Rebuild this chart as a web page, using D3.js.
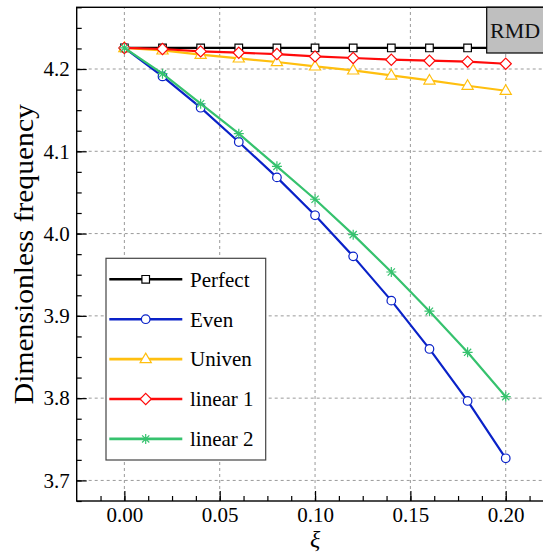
<!DOCTYPE html>
<html>
<head>
<meta charset="utf-8">
<script src="https://cdn.jsdelivr.net/npm/d3@7"></script>
<style>
  html, body { margin: 0; padding: 0; background: #fff; }
  svg { display: block; }
  svg text { font-family: "Liberation Serif", "DejaVu Serif", "Noto Serif", serif; }
</style>
</head>
<body>
<svg id="chart" width="543" height="554"></svg>
<script>
// Damage position ξ (x) and dimensionless frequency for each crack profile
const xi = [0, 0.02, 0.04, 0.06, 0.08, 0.10, 0.12, 0.14, 0.16, 0.18, 0.20];
const perfect = [4.2256, 4.2256, 4.2256, 4.2256, 4.2256, 4.2256, 4.2256, 4.2256, 4.2256, 4.2256, 4.2256];
const even    = [4.2256, 4.1910, 4.1530, 4.1113, 4.0683, 4.0222, 3.9723, 3.9185, 3.8598, 3.7966, 3.7269];
const univen  = [4.2256, 4.2226, 4.2174, 4.2129, 4.2085, 4.2032, 4.1983, 4.1922, 4.1861, 4.1797, 4.1736];
const linear1 = [4.2256, 4.2243, 4.2214, 4.2198, 4.2182, 4.2153, 4.2134, 4.2113, 4.2101, 4.2089, 4.2064];
const linear2 = [4.2256, 4.1943, 4.1578, 4.1214, 4.0817, 4.0417, 3.9987, 3.9533, 3.9057, 3.8557, 3.8018];

const seriesNames = ["Perfect", "Even", "Univen", "linear 1", "linear 2"];
const seriesColors = ["#000000", "#0a22c8", "#ffbf0f", "#ff0a0a", "#36c26e"];
const seriesMarkers = ["square", "circle", "triangle", "diamond", "asterisk"];

const xTicks = [0, 0.05, 0.10, 0.15, 0.20];
const yTicks = [3.7, 3.8, 3.9, 4.0, 4.1, 4.2];
const xLabel = "ξ";
const yLabel = "Dimensionless frequency";
const tagText = "RMD";

const svg = d3.select("#chart");
const margin = { left: 76.7, top: 7.3 };
const plotW = 476.7, plotH = 493.7;

const x = d3.scaleLinear().domain([-0.025, 0.225]).range([margin.left, margin.left + plotW]);
const y = d3.scaleLinear().domain([3.675, 4.275]).range([margin.top + plotH, margin.top]);

// Grid
const grid = svg.append("g").attr("stroke", "#9a9a9a").attr("stroke-width", 1)
  .attr("stroke-dasharray", "3,3").attr("fill", "none");
xTicks.forEach(t => grid.append("line")
  .attr("x1", x(t)).attr("x2", x(t)).attr("y1", y.range()[0]).attr("y2", y.range()[1]));
yTicks.forEach(t => grid.append("line")
  .attr("y1", y(t)).attr("y2", y(t)).attr("x1", x.range()[0]).attr("x2", x.range()[1]));

// Minor ticks (inward)
const xMinor = d3.range(-0.0125, 0.2251, 0.0125);
const yMinor = d3.range(3.675, 4.2751, 0.025);
svg.append("g").attr("transform", `translate(0,${y.range()[0]})`)
  .call(d3.axisBottom(x).tickValues(xMinor).tickSize(-5).tickFormat(""))
  .call(g => g.select(".domain").remove())
  .selectAll("line").attr("stroke", "#000").attr("stroke-width", 1.2);
svg.append("g").attr("transform", `translate(${x.range()[0]},0)`)
  .call(d3.axisLeft(y).tickValues(yMinor).tickSize(-5).tickFormat(""))
  .call(g => g.select(".domain").remove())
  .selectAll("line").attr("stroke", "#000").attr("stroke-width", 1.2);

// Major ticks with labels
const xAxis = svg.append("g").attr("transform", `translate(0,${y.range()[0]})`)
  .call(d3.axisBottom(x).tickValues(xTicks).tickSize(-10).tickPadding(6).tickFormat(d3.format(".2f")));
xAxis.attr("font-family", null).attr("font-size", null);
xAxis.select(".domain").remove();
xAxis.selectAll("line").attr("stroke", "#000").attr("stroke-width", 1.2);
xAxis.selectAll("text").attr("font-size", 21).attr("fill", "#000");

const yAxis = svg.append("g").attr("transform", `translate(${x.range()[0]},0)`)
  .call(d3.axisLeft(y).tickValues(yTicks).tickSize(-10).tickPadding(7).tickFormat(d3.format(".1f")));
yAxis.attr("font-family", null).attr("font-size", null);
yAxis.select(".domain").remove();
yAxis.selectAll("line").attr("stroke", "#000").attr("stroke-width", 1.2);
yAxis.selectAll("text").attr("font-size", 21).attr("fill", "#000");

// Frame
svg.append("rect")
  .attr("x", x.range()[0]).attr("y", y.range()[1])
  .attr("width", plotW).attr("height", plotH)
  .attr("fill", "none").attr("stroke", "#000").attr("stroke-width", 1.4);

// Marker paths
function markerPath(kind) {
  switch (kind) {
    case "square": { const s = 3.8; return `M${-s},${-s}H${s}V${s}H${-s}Z`; }
    case "circle": { const r = 4.3; return `M${r},0A${r},${r} 0 1,1 ${-r},0A${r},${r} 0 1,1 ${r},0Z`; }
    case "triangle": return "M0,-6L5.6,3.6L-5.6,3.6Z";
    case "diamond": { const s = 5.6; return `M0,${-s}L${s},0L0,${s}L${-s},0Z`; }
    case "asterisk": { const s = 5, d = 3.6; return `M0,${-s}V${s}M${-s},0H${s}M${-d},${-d}L${d},${d}M${-d},${d}L${d},${-d}`; }
  }
}

const allSeries = [perfect, even, univen, linear1, linear2];
const clipId = "plotclip";
svg.append("clipPath").attr("id", clipId).append("rect")
  .attr("x", x.range()[0]).attr("y", y.range()[1]).attr("width", plotW).attr("height", plotH);

const line = d3.line().x((d, i) => x(xi[i])).y(d => y(d));
const plot = svg.append("g").attr("clip-path", `url(#${clipId})`);
allSeries.forEach((vals, k) => {
  const g = plot.append("g");
  g.append("path").datum(vals).attr("d", line)
    .attr("fill", "none").attr("stroke", seriesColors[k]).attr("stroke-width", 2.2)
    .attr("stroke-linejoin", "round");
  g.selectAll("path.mk").data(vals).join("path").attr("class", "mk")
    .attr("transform", (d, i) => `translate(${x(xi[i])},${y(d)})`)
    .attr("d", markerPath(seriesMarkers[k]))
    .attr("fill", seriesMarkers[k] === "asterisk" ? "none" : "#fff")
    .attr("stroke", seriesColors[k]).attr("stroke-width", 1.2);
});

// Corner tag box
svg.append("rect").attr("x", 486.7).attr("y", y.range()[1]).attr("width", 90).attr("height", 45.7)
  .attr("fill", "#bfbfbf").attr("stroke", "#000").attr("stroke-width", 1.2);
svg.append("text").attr("x", 490).attr("y", 38.3).attr("font-size", 22).attr("fill", "#111").text(tagText);

// Legend
const leg = svg.append("g");
leg.append("rect").attr("x", 106).attr("y", 258.3).attr("width", 159.7).attr("height", 201.7)
  .attr("fill", "#fff").attr("stroke", "#444").attr("stroke-width", 1.2);
seriesNames.forEach((name, k) => {
  const cy = 279.3 + k * 39.9;
  leg.append("line").attr("x1", 109.3).attr("x2", 182.3).attr("y1", cy).attr("y2", cy)
    .attr("stroke", seriesColors[k]).attr("stroke-width", 2.6);
  leg.append("path").attr("transform", `translate(145.7,${cy})`)
    .attr("d", markerPath(seriesMarkers[k]))
    .attr("fill", seriesMarkers[k] === "asterisk" ? "none" : "#fff")
    .attr("stroke", seriesColors[k]).attr("stroke-width", 1.2);
  leg.append("text").attr("x", 190).attr("y", cy).attr("dy", "0.35em")
    .attr("font-size", 21).attr("fill", "#000").text(name);
});

// Axis titles
svg.append("text").attr("x", x(0.1)).attr("y", 547).attr("text-anchor", "middle")
  .attr("font-size", 24).attr("font-style", "italic").attr("fill", "#000").text(xLabel);
svg.append("text")
  .attr("transform", `translate(33,${(y.range()[0] + y.range()[1]) / 2}) rotate(-90)`)
  .attr("text-anchor", "middle").attr("font-size", 28)
  .attr("textLength", 300).attr("lengthAdjust", "spacingAndGlyphs")
  .attr("fill", "#000").text(yLabel);
</script>
</body>
</html>
